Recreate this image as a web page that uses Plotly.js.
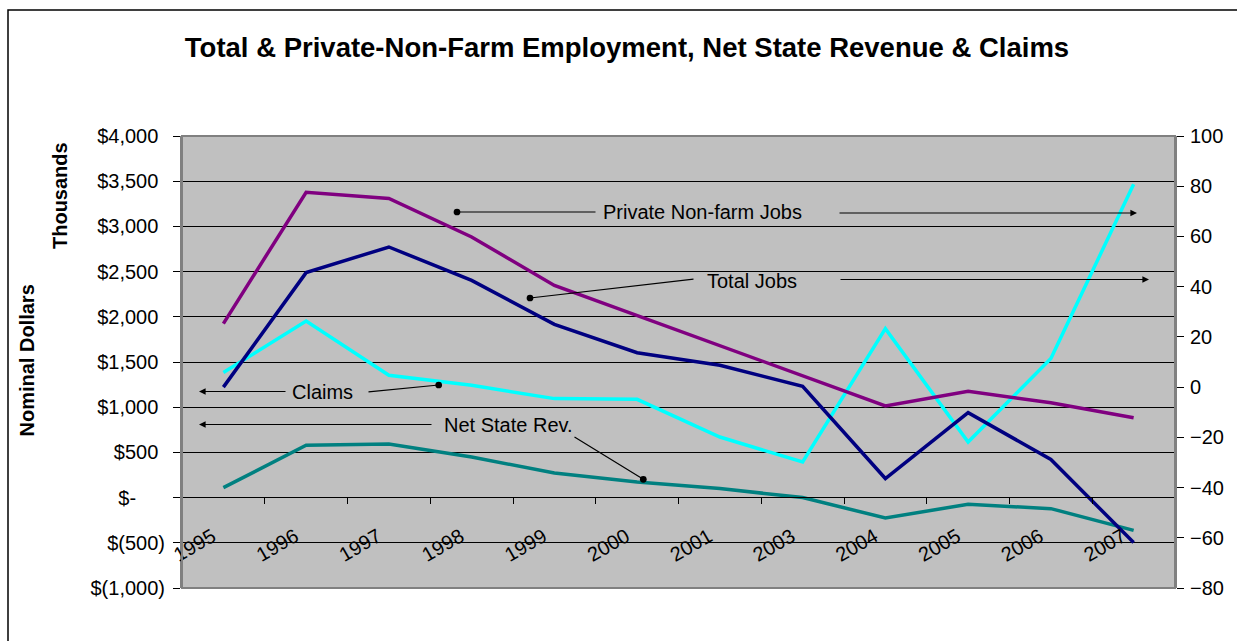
<!DOCTYPE html>
<html>
<head>
<meta charset="utf-8">
<script src="https://cdn.plot.ly/plotly-3.0.1.min.js"></script>
<style>
html,body{margin:0;padding:0;background:#fff;}
#chart{width:1237px;height:641px;}
</style>
</head>
<body>
<div id="chart"></div>
<script>
// ---- data ----
var years = ["1995","1996","1997","1998","1999","2000","2001","2003","2004","2005","2006","2007"];
// right axis (thousands of jobs, change)
var privateNonFarmJobs = [25.3, 77.6, 75.1, 59.8, 40.5, 28.5, 16.5, 4.4, -7.5, -1.7, -6.2, -12.2];
var totalJobs          = [0.0, 45.6, 55.8, 42.5, 25.0, 13.7, 8.7, 0.3, -36.4, -10.2, -28.8, -61.9];
// left axis (nominal dollars, thousands)
var claims             = [1383, 1954, 1353, 1242, 1095, 1087, 670, 394, 1869, 615, 1538, 3466];
var netStateRev        = [110, 579, 593, 449, 272, 173, 100, 0, -225, -74, -122, -362];

var PAD = "<span style='color:rgba(0,0,0,0)'>)</span>";
var PAD0 = "<span style='color:rgba(0,0,0,0)'>00)</span>";
var leftTickVals  = [-1000,-500,0,500,1000,1500,2000,2500,3000,3500,4000];
var leftTickText  = ["$(1,000)","$(500)","$-"+PAD0,"$500"+PAD,"$1,000"+PAD,"$1,500"+PAD,"$2,000"+PAD,"$2,500"+PAD,"$3,000"+PAD,"$3,500"+PAD,"$4,000"+PAD];
var rightTickVals = [-80,-60,-40,-20,0,20,40,60,80,100];

var FONT = "'Liberation Sans', Arial, sans-serif";

// plot area geometry in px (for annotation placement)
var L = 182, R = 1175, T = 136, B = 588;
function px(x){ return (x - L) / (R - L); }
function py(y){ return (B - y) / (B - T); }

var traces = [
  {x: years, y: privateNonFarmJobs, name: "Private Non-farm Jobs", type: "scatter", mode: "lines",
   yaxis: "y2", line: {color: "#800080", width: 3.5}},
  {x: years, y: totalJobs, name: "Total Jobs", type: "scatter", mode: "lines",
   yaxis: "y2", line: {color: "#000080", width: 3.5}},
  {x: years, y: claims, name: "Claims", type: "scatter", mode: "lines",
   yaxis: "y", line: {color: "#00FFFF", width: 3.5}},
  {x: years, y: netStateRev, name: "Net State Rev.", type: "scatter", mode: "lines",
   yaxis: "y", line: {color: "#008080", width: 3.5}}
];

function label(text, cx, cy){
  return {xref: "paper", yref: "paper", x: px(cx), y: py(cy), text: text, showarrow: false,
          xanchor: "center", yanchor: "middle", font: {family: FONT, size: 20, color: "#000"}};
}
function arrow(hx, hy, tx, ty, head){
  return {xref: "paper", yref: "paper", x: px(hx), y: py(hy), ax: tx - hx, ay: ty - hy,
          text: "", showarrow: true, arrowhead: head, arrowsize: head === 6 ? 1.4 : 1.1,
          arrowwidth: 1.2, arrowcolor: "#000", standoff: 0};
}

var annotations = [
  label("Private Non-farm Jobs", 702, 212),
  arrow(457, 212, 597, 212, 6),
  arrow(1137, 213, 838, 213, 2),
  label("Total Jobs", 752, 281),
  arrow(530, 298, 695, 279, 6),
  arrow(1149, 279.5, 839, 279.5, 2),
  label("Claims", 322, 392),
  arrow(199, 391.5, 287, 391.5, 2),
  arrow(438.7, 385, 367, 392, 6),
  label("Net State Rev.", 508, 425),
  arrow(199, 424.5, 433, 424.5, 2),
  arrow(643.3, 479.3, 573, 436, 6),
  {xref: "paper", yref: "paper", x: px(26.5), y: py(361), text: "<b>Nominal Dollars</b>", textangle: -90,
   showarrow: false, xanchor: "center", yanchor: "middle", font: {family: FONT, size: 20, color: "#000"}},
  {xref: "paper", yref: "paper", x: px(60), y: py(196), text: "<b>Thousands</b>", textangle: -90,
   showarrow: false, xanchor: "center", yanchor: "middle", font: {family: FONT, size: 20, color: "#000"}}
];

var layout = {
  width: 1237, height: 641,
  margin: {l: L, r: 1237 - R, t: T, b: 641 - B, pad: 0},
  paper_bgcolor: "#FFFFFF",
  plot_bgcolor: "#C0C0C0",
  showlegend: false,
  title: {text: "<b>Total & Private-Non-Farm Employment, Net State Revenue & Claims</b>",
          font: {family: FONT, size: 27.5, color: "#000"},
          xref: "container", yref: "container", x: 627/1237, xanchor: "center",
          y: 1 - 47/641, yanchor: "middle"},
  xaxis: {type: "category", anchor: "free", position: py(497.3), range: [-0.5, 11.5],
          showline: true, linecolor: "#000", linewidth: 1,
          ticks: "outside", ticklen: 6, tickcolor: "#000", tickson: "boundaries",
          tickangle: -30, ticklabelstandoff: 19, ticklabelshift: -11,
          showgrid: false, zeroline: false,
          tickfont: {family: FONT, size: 20, color: "#000"}},
  yaxis: {range: [-1000, 4000], tickvals: leftTickVals, ticktext: leftTickText,
          showgrid: true, gridcolor: "#000", gridwidth: 1, zeroline: false,
          ticks: "outside", ticklen: 7, tickcolor: "#000", ticklabelstandoff: 4,
          showline: true, linecolor: "#808080", linewidth: 2,
          tickfont: {family: FONT, size: 20, color: "#000"}},
  yaxis2: {range: [-80, 100], tickvals: rightTickVals, overlaying: "y", side: "right",
           showgrid: false, zeroline: false,
           ticks: "outside", ticklen: 7, tickcolor: "#000", ticklabelstandoff: 2,
           showline: true, linecolor: "#808080", linewidth: 2,
           tickfont: {family: FONT, size: 20, color: "#000"}},
  shapes: [
    {type: "rect", xref: "paper", yref: "paper", x0: 0, x1: 1, y0: 0, y1: 1,
     line: {color: "#808080", width: 2}, fillcolor: "rgba(0,0,0,0)", layer: "above"},
    {type: "rect", xref: "paper", yref: "paper", x0: px(8), x1: px(1260), y0: py(700), y1: py(10),
     line: {color: "#000", width: 1.5}, fillcolor: "rgba(0,0,0,0)", layer: "above"}
  ],
  annotations: annotations
};

Plotly.newPlot("chart", traces, layout, {displayModeBar: false, staticPlot: true});
</script>
</body>
</html>
